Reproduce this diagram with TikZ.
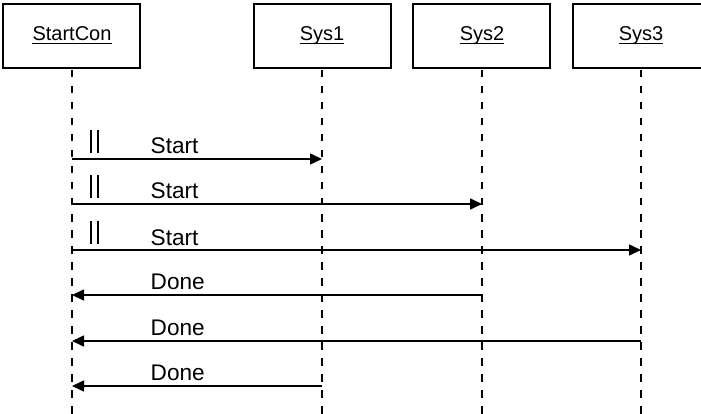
\documentclass[tikz,border=0pt]{standalone}
\usepackage{fontspec}
\setmainfont{Liberation Sans}
\usetikzlibrary{arrows.meta}
\begin{document}
\begin{tikzpicture}[x=1pt,y=-1pt,
  every node/.style={font=\fontsize{20}{24}\selectfont, inner sep=0pt},
  objbox/.style={draw=black, line width=1.3pt},
  objname/.style={anchor=base},
  lifeline/.style={line width=1.2pt, dash pattern=on 7.5pt off 8.5pt},
  msg/.style={line width=1.5pt, -{Triangle[length=12pt,width=11pt]}},
  msglabel/.style={anchor=base west, font=\fontsize{22.6}{27}\selectfont},
  parmark/.style={line width=2.2pt}]
\useasboundingbox (0,0) rectangle (701,414);
\clip (0,0) rectangle (701,414);

% object boxes
\draw[objbox] (3,4) rectangle (140,68);
\draw[objbox] (254,4) rectangle (391,68);
\draw[objbox] (413,4) rectangle (550,68);
\draw[objbox] (573,4) rectangle (710,68);

% object names (underlined)
\node[objname] (nStart) at (72,41) {StartCon};
\node[objname] (nSys1) at (322,41) {Sys1};
\node[objname] (nSys2) at (482,41) {Sys2};
\node[objname] (nSys3) at (641,41) {Sys3};
\foreach \n in {nStart,nSys1,nSys2,nSys3}
  \draw[line width=1.3pt] ([yshift=-2.6pt]\n.base west) -- ([yshift=-2.6pt]\n.base east);

% lifelines
\coordinate (lStartTop) at (72,70);  \coordinate (lStartBot) at (72,414);
\coordinate (lSys1Top) at (322,70);  \coordinate (lSys1Bot) at (322,414);
\coordinate (lSys2Top) at (482,70);  \coordinate (lSys2Bot) at (482,414);
\coordinate (lSys3Top) at (641,70);  \coordinate (lSys3Bot) at (641,414);
\draw[lifeline] (lStartTop) -- (lStartBot);
\draw[lifeline] (lSys1Top) -- (lSys1Bot);
\draw[lifeline] (lSys2Top) -- (lSys2Bot);
\draw[lifeline] (lSys3Top) -- (lSys3Bot);

% message end points on the lifelines
\foreach \y/\k in {159/a,204/b,250/c,295/d,341/e,386/f} {
  \coordinate (S\k) at (72,\y);
  \coordinate (A\k) at (322,\y);
  \coordinate (B\k) at (482,\y);
  \coordinate (C\k) at (641,\y);
}

% Start messages
\draw[msg] (Sa) -- (Aa);
\draw[msg] (Sb) -- (Bb);
\draw[msg] (Sc) -- (Cc);
\foreach \y/\k in {159/a,204/b,250/c} {
  \node[msglabel] (start\k) at (150.5,\y-5) {Start};
  \draw[parmark] (91.3,\y-29) -- (91.3,\y-6);
  \draw[parmark] (98.3,\y-29) -- (98.3,\y-6);
}

% Done messages
\draw[msg] (Bd) -- (Sd);
\draw[msg] (Ce) -- (Se);
\draw[msg] (Af) -- (Sf);
\foreach \y/\k in {295/d,341/e,386/f}
  \node[msglabel] (done\k) at (150.5,\y-6) {Done};
\end{tikzpicture}
\end{document}
